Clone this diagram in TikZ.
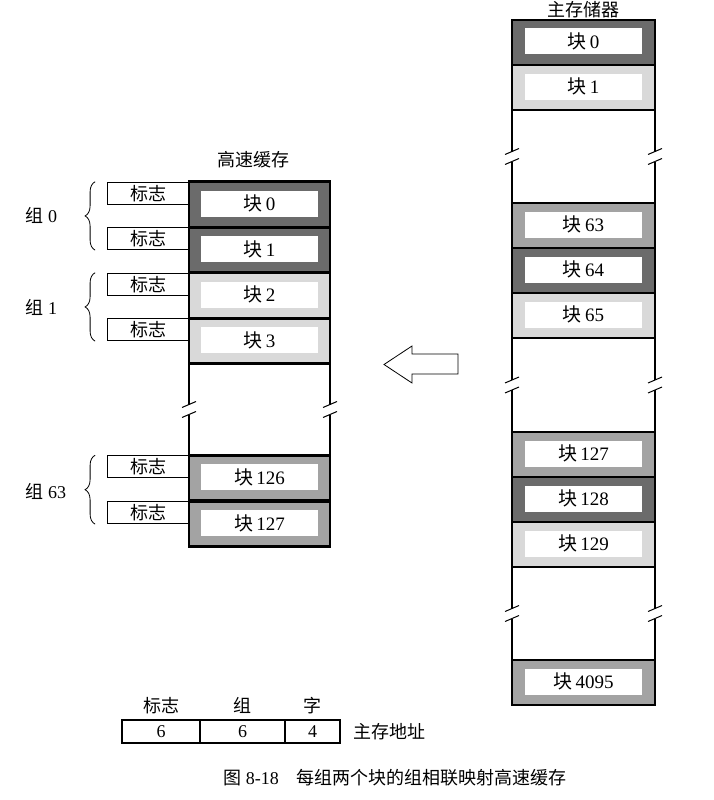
\documentclass[tikz,border=0pt]{standalone}
\usepackage{fontspec}
\setmainfont{Liberation Serif}
\newfontfamily\cjk{Noto Sans CJK SC}
\usetikzlibrary{positioning, calc, decorations.pathreplacing}

\definecolor{shdark}{gray}{0.42}
\definecolor{shmid}{gray}{0.64}
\definecolor{shlight}{gray}{0.85}

\begin{document}
\begin{tikzpicture}[
  x=1pt, y=-1pt,
  font=\fontsize{18}{21}\selectfont,
  blk/.style={draw, line width=2.6pt, inner sep=0pt, outer sep=0pt, minimum width=143, minimum height=45},
  cblk/.style={blk, minimum width=141, minimum height=45.5},
  inbox/.style={fill=white, inner sep=0pt, minimum width=117, minimum height=26, font=\fontsize{19}{22}\selectfont},
  tagbox/.style={draw, line width=0.9pt, inner sep=0pt, minimum width=81, minimum height=22, anchor=north east},
  wall/.style={line width=2.6pt},
  brk/.style={line width=1pt},
  brc/.style={decorate, decoration={brace, amplitude=10pt}, line width=0.8pt},
  field/.style={draw, line width=2.6pt, inner sep=0pt, outer sep=0pt, minimum height=23}
]
  \useasboundingbox (0,0) rectangle (714,800);

  % Titel der beiden Speicher
  \node (mtitle) at (583,10) {\cjk 主存储器};
  \node (ctitle) at (253,160) {\cjk 高速缓存};

  % Hauptspeicher
  \foreach \n/\yy/\shd in {0/42.5/shdark, 1/87.5/shlight, 63/225.5/shmid, 64/270.5/shdark, 65/315.5/shlight,
                           127/454.5/shmid, 128/499.5/shdark, 129/544.5/shlight, 4095/682.5/shmid} {
    \node[blk, fill=\shd] (m\n) at (583.5,\yy) {};
    \node[inbox] (m\n-t) at ([yshift=1pt]m\n) {{\cjk 块}\,\n};
  }

  % Cache mit Tags
  \foreach \n/\yy/\shd in {0/204.5/shdark, 1/250/shdark, 2/295.5/shlight, 3/341/shlight, 126/478/shmid, 127/524/shmid} {
    \node[cblk, fill=\shd] (c\n) at (259.5,\yy) {};
    \node[inbox] (c\n-t) at ([yshift=1pt]c\n) {{\cjk 块}\,\n};
    \node[tagbox] (t\n) at (c\n.north west) {\cjk 标志};
  }

  % Seitenwaende mit Unterbrechung
  \foreach \a/\b in {m1/m63, m65/m127, m129/m4095, c3/c126} {
    \foreach \s in {west, east} {
      \coordinate (mid) at ($(\a.south \s)!0.5!(\b.north \s)$);
      \draw[wall] (\a.south \s) -- ([yshift=5pt]mid);
      \draw[wall] ([yshift=-5pt]mid) -- (\b.north \s);
      \draw[brk] ([xshift=-7pt,yshift=2pt]mid) -- ([xshift=7pt,yshift=8pt]mid);
      \draw[brk] ([xshift=-7pt,yshift=-8pt]mid) -- ([xshift=7pt,yshift=-2pt]mid);
    }
  }

  % Gruppen
  \draw[brc] ([xshift=-12pt]t1.south west) -- ([xshift=-12pt]t0.north west);
  \draw[brc] ([xshift=-12pt]t3.south west) -- ([xshift=-12pt]t2.north west);
  \draw[brc] ([xshift=-12pt]t127.south west) -- ([xshift=-12pt]t126.north west);
  \node[anchor=west] (g0) at (22,215) {{\cjk 组} 0};
  \node[anchor=west] (g1) at (22,307) {{\cjk 组} 1};
  \node[anchor=west] (g63) at (22,491) {{\cjk 组} 63};

  % Hohlpfeil
  \draw[line width=0.8pt] (458,354) -- (412,354) -- (412,346) -- (384,364.5) -- (412,383) -- (412,374) -- (458,374) -- cycle;

  % Adressformat
  \node[field, minimum width=78] (ftag) at (161,731.5) {6};
  \node[field, minimum width=85, anchor=west] (fset) at (ftag.east) {6};
  \node[field, minimum width=55, anchor=west] (fword) at (fset.east) {4};
  \node[above=3pt of ftag] (ltag) {\cjk 标志};
  \node[above=3pt of fset] (lset) {\cjk 组};
  \node[above=3pt of fword] (lword) {\cjk 字};
  \node[right=10pt of fword] (laddr) {\cjk 主存地址};

  \node (caption) at (395,778) {{\cjk 图} 8-18\hspace{1em}{\cjk 每组两个块的组相联映射高速缓存}};
\end{tikzpicture}
\end{document}
